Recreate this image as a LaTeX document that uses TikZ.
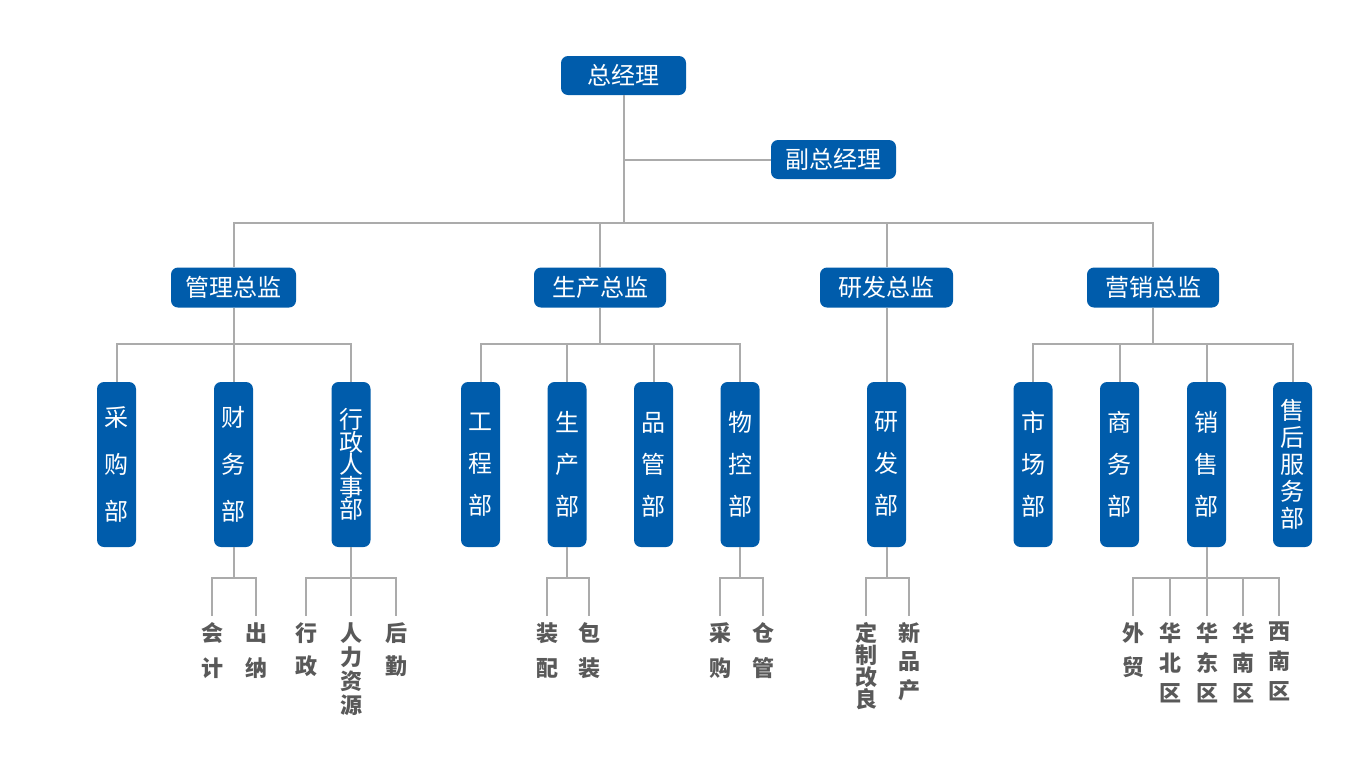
\documentclass[tikz,border=0pt]{standalone}
\usepackage{fontspec}
\newfontfamily\cjk{Noto Sans CJK SC}
\definecolor{boxblue}{HTML}{005CAB}
\definecolor{linegray}{HTML}{ABABAB}
\definecolor{labgray}{HTML}{595959}
\newcommand\vfnt[1]{\cjk\fontsize{24}{#1}\selectfont}
\newcommand\lfnt[1]{\cjk\bfseries\fontsize{22}{#1}\selectfont}
\begin{document}
\begin{tikzpicture}[x=1pt,y=-1pt,
  hbox/.style={fill=boxblue, rounded corners=7pt, text=white, font=\cjk\fontsize{24}{28}\selectfont, minimum height=39pt, inner sep=0pt},
  vbox/.style={fill=boxblue, rounded corners=7pt, text=white, minimum width=39pt, minimum height=165pt, inner sep=0pt, align=center},
  lab/.style={anchor=north, text=labgray, inner xsep=0pt, inner ysep=6pt, align=center},
  conn/.style={draw=linegray, line width=2pt}]
\useasboundingbox (0,0) rectangle (1359,769);
% level 0/1
\node[hbox, minimum width=125pt] (ceo) at (623.5,75.5) {总经理};
\node[hbox, minimum width=125pt] (vp) at (833.5,159.5) {副总经理};
% directors
\node[hbox, minimum width=125pt, minimum height=40pt] (d1) at (233.5,287.5) {管理总监};
\node[hbox, minimum width=132pt, minimum height=40pt] (d2) at (600,287.5) {生产总监};
\node[hbox, minimum width=133pt, minimum height=40pt] (d3) at (886.5,287.5) {研发总监};
\node[hbox, minimum width=132pt, minimum height=40pt] (d4) at (1153,287.5) {营销总监};
% departments
\node[vbox, font=\vfnt{47}] (a1) at (116.5,464.5) {采\\购\\部};
\node[vbox, font=\vfnt{47}] (a2) at (233.5,464.5) {财\\务\\部};
\node[vbox, font=\vfnt{22.5}] (a3) at (351,464.5) {行\\政\\人\\事\\部};
\node[vbox, font=\vfnt{42}] (b1) at (480.5,464.5) {工\\程\\部};
\node[vbox, font=\vfnt{42}] (b2) at (567,464.5) {生\\产\\部};
\node[vbox, font=\vfnt{42}] (b3) at (653.5,464.5) {品\\管\\部};
\node[vbox, font=\vfnt{42}] (b4) at (740,464.5) {物\\控\\部};
\node[vbox, font=\vfnt{42}] (c1) at (886.5,464.5) {研\\发\\部};
\node[vbox, font=\vfnt{42}] (e1) at (1033,464.5) {市\\场\\部};
\node[vbox, font=\vfnt{42}] (e2) at (1119.5,464.5) {商\\务\\部};
\node[vbox, font=\vfnt{42}] (e3) at (1206.5,464.5) {销\\售\\部};
\node[vbox, font=\vfnt{27}] (e4) at (1292.5,464.5) {售\\后\\服\\务\\部};
% sub-labels
\node[lab, font=\lfnt{35}] (la1) at (212,616) {会\\计};
\node[lab, font=\lfnt{35}] (la2) at (256,616) {出\\纳};
\node[lab, font=\lfnt{33}] (lb1) at (306,616) {行\\政};
\node[lab, font=\lfnt{24}] (lb2) at (351,616) {人\\力\\资\\源};
\node[lab, font=\lfnt{33}] (lb3) at (396,616) {后\\勤};
\node[lab, font=\lfnt{35}] (lc1) at (547,616) {装\\配};
\node[lab, font=\lfnt{35}] (lc2) at (589,616) {包\\装};
\node[lab, font=\lfnt{35}] (ld1) at (720,616) {采\\购};
\node[lab, font=\lfnt{35}] (ld2) at (763,616) {仓\\管};
\node[lab, font=\lfnt{22}] (le1) at (866,616) {定\\制\\改\\良};
\node[lab, font=\lfnt{28.5}] (le2) at (909,616) {新\\品\\产};
\node[lab, font=\lfnt{34}] (lf1) at (1133,616) {外\\贸};
\node[lab, font=\lfnt{30}] (lf2) at (1170,616) {华\\北\\区};
\node[lab, font=\lfnt{30}] (lf3) at (1207,616) {华\\东\\区};
\node[lab, font=\lfnt{30}] (lf4) at (1243,616) {华\\南\\区};
\node[lab, font=\lfnt{30}] (lf5) at (1279,616) {西\\南\\区};
% junctions
\coordinate (j0) at (623.5,223);
\coordinate (k1) at (233.5,344);
\coordinate (k2) at (600,344);
\coordinate (k4) at (1153,344);
\coordinate (m1) at (233.5,578);
\coordinate (m2) at (351,578);
\coordinate (m3) at (567,578);
\coordinate (m4) at (740,578);
\coordinate (m5) at (886.5,578);
\coordinate (m6) at (1206.5,578);
% connectors level 0-2
\draw[conn] (ceo.south) -- (j0);
\draw[conn] (ceo.south |- vp.west) -- (vp.west);
\draw[conn] (d1.north) |- (j0);
\draw[conn] (j0) -| (d4.north);
\draw[conn] (d2.north) -- (d2.north |- j0);
\draw[conn] (d3.north) -- (d3.north |- j0);
% level 2-3
\draw[conn] (d1.south) -- (k1);
\draw[conn] (a1.north) |- (k1) -| (a3.north);
\draw[conn] (a2.north) -- (a2.north |- k1);
\draw[conn] (d2.south) -- (k2);
\draw[conn] (b1.north) |- (k2) -| (b4.north);
\draw[conn] (b2.north) -- (b2.north |- k2);
\draw[conn] (b3.north) -- (b3.north |- k2);
\draw[conn] (d3.south) -- (c1.north);
\draw[conn] (d4.south) -- (k4);
\draw[conn] (e1.north) |- (k4) -| (e4.north);
\draw[conn] (e2.north) -- (e2.north |- k4);
\draw[conn] (e3.north) -- (e3.north |- k4);
% level 3-4
\draw[conn] (a2.south) -- (m1);
\draw[conn] (la1.north) |- (m1) -| (la2.north);
\draw[conn] (a3.south) -- (m2);
\draw[conn] (lb1.north) |- (m2) -| (lb3.north);
\draw[conn] (lb2.north) -- (m2);
\draw[conn] (b2.south) -- (m3);
\draw[conn] (lc1.north) |- (m3) -| (lc2.north);
\draw[conn] (b4.south) -- (m4);
\draw[conn] (ld1.north) |- (m4) -| (ld2.north);
\draw[conn] (c1.south) -- (m5);
\draw[conn] (le1.north) |- (m5) -| (le2.north);
\draw[conn] (e3.south) -- (m6);
\draw[conn] (lf1.north) |- (m6) -| (lf5.north);
\draw[conn] (lf2.north) -- (lf2.north |- m6);
\draw[conn] (lf3.north) -- (lf3.north |- m6);
\draw[conn] (lf4.north) -- (lf4.north |- m6);
\end{tikzpicture}
\end{document}
